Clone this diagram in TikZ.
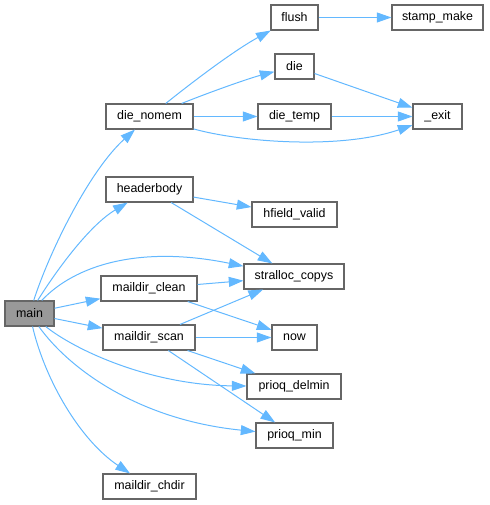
\documentclass[tikz,border=0pt]{standalone}
\usepackage{fontspec}
\setmainfont{Liberation Sans}
\usetikzlibrary{arrows.meta}
\definecolor{edgec}{HTML}{63B8FF}
\definecolor{bordc}{HTML}{666666}
\definecolor{mainc}{HTML}{999999}
\begin{document}
\begin{tikzpicture}[x=0.75pt,y=-0.75pt,
  fn/.style={draw=bordc,line width=0.8pt,fill=white,minimum height=18.75pt,inner sep=0pt,font=\fontsize{9.3}{11}\selectfont,anchor=center},
  edge/.style={draw=edgec,line width=0.75pt,-{Triangle[length=11pt,width=7.5pt]}}]
\useasboundingbox (0,0) rectangle (489,505);
\node[fn,fill=mainc,minimum width=36.75pt] (main) at (29.5,313.5) {main};
\node[fn,minimum width=65.25pt] (die_nomem) at (149.5,116.5) {die\_nomem};
\node[fn,minimum width=65.25pt] (headerbody) at (149.5,189.5) {headerbody};
\node[fn,minimum width=72pt] (maildir_clean) at (149,288.5) {maildir\_clean};
\node[fn,minimum width=69pt] (maildir_scan) at (149,337.5) {maildir\_scan};
\node[fn,minimum width=69.75pt] (maildir_chdir) at (149.5,486.5) {maildir\_chdir};
\node[fn,minimum width=35.25pt] (flush) at (294.5,17.5) {flush};
\node[fn,minimum width=68.25pt] (stamp_make) at (437.5,17.5) {stamp\_make};
\node[fn,minimum width=29.25pt] (die) at (294.5,66.5) {die};
\node[fn,minimum width=54.75pt] (die_temp) at (294.5,116.5) {die\_temp};
\node[fn,minimum width=36.75pt] (exit) at (437.5,116.5) {\_exit};
\node[fn,minimum width=63.75pt] (hfield_valid) at (294.5,214.5) {hfield\_valid};
\node[fn,minimum width=75pt] (stralloc_copys) at (294,276.5) {stralloc\_copys};
\node[fn,minimum width=33.75pt] (now) at (294.5,337.5) {now};
\node[fn,minimum width=70.5pt] (prioq_delmin) at (294,386.5) {prioq\_delmin};
\node[fn,minimum width=57.75pt] (prioq_min) at (294.5,435.5) {prioq\_min};
% main edges
\draw[edge] (main) .. controls (50,250) and (90,170) .. (die_nomem);
\draw[edge] (main) .. controls (58,268) and (90,225) .. (headerbody);
\draw[edge] (main) .. controls (75,265) and (140,245) .. (stralloc_copys);
\draw[edge] (main) -- (maildir_clean);
\draw[edge] (main) -- (maildir_scan);
\draw[edge] (main) .. controls (75,350) and (150,385) .. (prioq_delmin);
\draw[edge] (main) .. controls (70,370) and (140,420) .. (prioq_min);
\draw[edge] (main) .. controls (45,380) and (80,440) .. (maildir_chdir);
% die_nomem edges
\draw[edge] (die_nomem) .. controls (195,80) and (235,50) .. (flush);
\draw[edge] (die_nomem) .. controls (210,92) and (250,78) .. (die);
\draw[edge] (die_nomem) -- (die_temp);
\draw[edge] (die_nomem) .. controls (240,142) and (340,150) .. (exit);
\draw[edge] (flush) -- (stamp_make);
\draw[edge] (die) -- (exit);
\draw[edge] (die_temp) -- (exit);
% headerbody
\draw[edge] (headerbody) -- (hfield_valid);
\draw[edge] (headerbody) -- (stralloc_copys);
% maildir_clean
\draw[edge] (maildir_clean) -- (stralloc_copys);
\draw[edge] (maildir_clean) -- (now);
% maildir_scan
\draw[edge] (maildir_scan) -- (stralloc_copys);
\draw[edge] (maildir_scan) -- (now);
\draw[edge] (maildir_scan) -- (prioq_delmin);
\draw[edge] (maildir_scan) -- (prioq_min);
\end{tikzpicture}
\end{document}
